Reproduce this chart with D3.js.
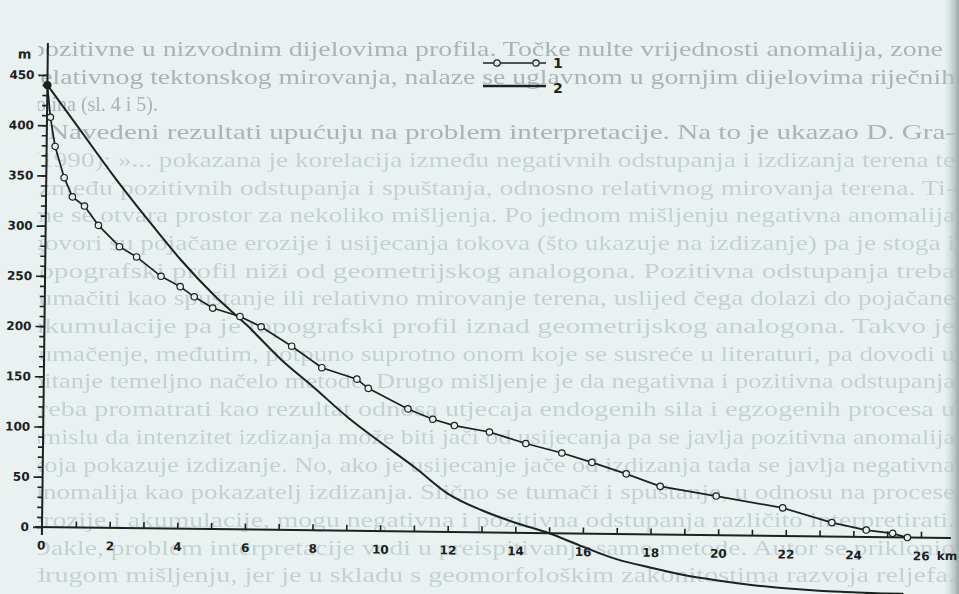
<!DOCTYPE html>
<html>
<head>
<meta charset="utf-8">
<script src="https://cdn.jsdelivr.net/npm/d3@7"></script>
<style>
  body { margin: 0; background: #e9f2f1; }
  svg { display: block; }
</style>
</head>
<body>
<svg id="chart"></svg>
<script>
// profile 1 (measured, with points) - km / m
const profileKm = [0, 0.1, 0.25, 0.53, 0.78, 1.14, 1.56, 2.19, 2.7, 3.43, 4.0, 4.42, 4.97, 5.78, 6.41, 7.32, 8.22, 9.26, 9.6, 10.78, 11.52, 12.16, 13.2, 14.28, 15.35, 16.24, 17.26, 18.27, 19.93, 21.9, 23.36, 24.38, 25.16, 25.6];
const profileM = [440, 408, 379, 348, 329, 320, 301, 280, 270, 251, 241, 231, 220, 212, 202, 183, 162, 151, 142, 122, 112, 106, 100, 89, 80, 71, 60, 48, 39, 28, 14, 7, 4, 0];

// profile 2 (smooth curve)
const curveKm = [0, 1, 2, 3, 4, 5, 6, 7, 8, 9, 10, 11, 12, 13, 14, 15, 16, 17, 18, 19, 20, 21, 22, 23, 24, 25, 25.5];
const curveM = [440, 395, 350, 308, 268, 233, 203, 170, 142, 113, 88, 64, 38, 22, 10, 0, -13, -25, -33, -40, -45, -49, -52, -54, -55, -56, -56];

const xLabelTicks = [0, 2, 4, 6, 8, 10, 12, 14, 16, 18, 20, 22, 24, 26];
const yLabelTicks = [0, 50, 100, 150, 200, 250, 300, 350, 400, 450];
const legendNames = ["1", "2"];

// the page text behind the figure
const pageLines = [
  "pozitivne u nizvodnim dijelovima profila. Točke nulte vrijednosti anomalija, zone",
  "relativnog tektonskog mirovanja, nalaze se uglavnom u gornjim dijelovima riječnih",
  "dolina (sl. 4 i 5).",
  "Navedeni rezultati upućuju na problem interpretacije. Na to je ukazao D. Gra-",
  "(1990): »... pokazana je korelacija između negativnih odstupanja i izdizanja terena te",
  "između pozitivnih odstupanja i spuštanja, odnosno relativnog mirovanja terena. Ti-",
  "me se otvara prostor za nekoliko mišljenja. Po jednom mišljenju negativna anomalija",
  "govori su pojačane erozije i usijecanja tokova (što ukazuje na izdizanje) pa je stoga i",
  "topografski profil niži od geometrijskog analogona. Pozitivna odstupanja treba",
  "tumačiti kao spuštanje ili relativno mirovanje terena, uslijed čega dolazi do pojačane",
  "akumulacije pa je topografski profil iznad geometrijskog analogona. Takvo je",
  "tumačenje, međutim, potpuno suprotno onom koje se susreće u literaturi, pa dovodi u",
  "pitanje temeljno načelo metode. Drugo mišljenje je da negativna i pozitivna odstupanja",
  "treba promatrati kao rezultat odnosa utjecaja endogenih sila i egzogenih procesa u",
  "smislu da intenzitet izdizanja može biti jači od usijecanja pa se javlja pozitivna anomalija",
  "koja pokazuje izdizanje. No, ako je usijecanje jače od izdizanja tada se javlja negativna",
  "anomalija kao pokazatelj izdizanja. Slično se tumači i spuštanje, u odnosu na procese",
  "erozije i akumulacije, mogu negativna i pozitivna odstupanja različito interpretirati.",
  "Dakle, problem interpretacije vodi u preispitivanje same metode. Autor se priklonio",
  "drugom mišljenju, jer je u skladu s geomorfološkim zakonitostima razvoja reljefa."
];

const width = 959;
const height = 594;
const bg = "#e9f2f1";
const ink = "#1b221f";

const svg = d3.select("#chart")
  .attr("width", width)
  .attr("height", height)
  .attr("viewBox", [0, 0, width, height]);

svg.append("rect").attr("width", width).attr("height", height).attr("fill", bg);

const defs = svg.append("defs");
defs.append("filter").attr("id", "soft")
  .append("feGaussianBlur").attr("stdDeviation", 0.6);
defs.append("clipPath").attr("id", "page")
  .append("rect").attr("x", 38).attr("y", 0).attr("width", width - 38).attr("height", height);
const edge = defs.append("linearGradient").attr("id", "edge").attr("x1", 0).attr("x2", 1);
edge.append("stop").attr("offset", 0).attr("stop-color", "#c9d2d2").attr("stop-opacity", 0);
edge.append("stop").attr("offset", 1).attr("stop-color", "#9aa6a6").attr("stop-opacity", 1);

// background page text
svg.append("g")
  .attr("clip-path", "url(#page)")
  .append("g")
  .attr("filter", "url(#soft)")
  .selectAll("text")
  .data(pageLines)
  .join("text")
  .attr("x", (d, i) => i == 3 ? 48 : (i == 2 ? 26 : 31))
  .attr("y", (d, i) => 56 + i * 27.7)
  .attr("font-family", "Liberation Serif, serif")
  .attr("font-size", 22)
  .attr("fill", (d, i) => i < 4 ? "#a9b4b5" : "#c4d1d2")
  .attr("textLength", (d, i) => i == 2 ? 132 : (i == 3 ? 907 : (i == 0 ? 912 : 924)))
  .attr("lengthAdjust", "spacingAndGlyphs")
  .text(d => d);

svg.append("rect").attr("x", 944).attr("width", 15).attr("height", height).attr("fill", "url(#edge)");

// chart frame: scanned slightly rotated
const g = svg.append("g")
  .attr("transform", "translate(42,527) rotate(0.7)");

const x = d3.scaleLinear().domain([0, 26]).range([0, 879]);
const y = d3.scaleLinear().domain([0, 450]).range([0, -452]);

// x axis: ticks every km pointing up, labels on even km
const xAxis = g.append("g")
  .call(d3.axisBottom(x).tickValues(d3.range(1, 27)).tickSizeInner(-6).tickSizeOuter(0).tickFormat(""));
xAxis.select(".domain").remove();
xAxis.selectAll(".tick line").attr("stroke", ink).attr("stroke-width", 1.6);

const xLab = g.append("g")
  .call(d3.axisBottom(x).tickValues(xLabelTicks).tickSize(0).tickPadding(14).tickFormat(d => d));
xLab.select(".domain").remove();
xLab.selectAll("text")
  .attr("font-family", "DejaVu Sans, sans-serif")
  .attr("font-weight", "bold")
  .attr("font-size", 12)
  .attr("fill", ink);
xLab.selectAll(".tick").filter(d => d == 0).select("text").attr("dx", -1);

g.append("text")
  .attr("x", x(26) + 16)
  .attr("y", 22)
  .attr("font-family", "DejaVu Sans, sans-serif")
  .attr("font-weight", "bold")
  .attr("font-size", 12)
  .attr("fill", ink)
  .text("km");

g.append("line")
  .attr("x1", -7).attr("x2", 909)
  .attr("y1", 0).attr("y2", 0)
  .attr("stroke", ink).attr("stroke-width", 2);

// y axis: minor ticks every 10 m, major every 50 m
const yMinor = g.append("g")
  .call(d3.axisLeft(y).tickValues(d3.range(0, 451, 10)).tickSize(5).tickFormat(""));
yMinor.select(".domain").remove();
yMinor.selectAll(".tick line").attr("stroke", ink).attr("stroke-width", 1.6);

const yMajor = g.append("g")
  .call(d3.axisLeft(y).tickValues(yLabelTicks).tickSize(9).tickPadding(4).tickFormat(d => d));
yMajor.select(".domain").remove();
yMajor.selectAll(".tick line").attr("stroke", ink).attr("stroke-width", 1.6);
yMajor.selectAll("text")
  .attr("font-family", "DejaVu Sans, sans-serif")
  .attr("font-weight", "bold")
  .attr("font-size", 12)
  .attr("fill", ink);

g.append("line")
  .attr("x1", 0).attr("x2", 0)
  .attr("y1", 8).attr("y2", y(482))
  .attr("stroke", ink).attr("stroke-width", 2);

g.append("text")
  .attr("x", -30)
  .attr("y", y(466))
  .attr("font-family", "DejaVu Sans, sans-serif")
  .attr("font-weight", "bold")
  .attr("font-size", 13)
  .attr("fill", ink)
  .text("m");

// curve 2
const curveData = curveKm.map((k, i) => ({ km: k, m: curveM[i] }));
g.append("path")
  .datum(curveData)
  .attr("fill", "none")
  .attr("stroke", ink)
  .attr("stroke-width", 2)
  .attr("d", d3.line().x(d => x(d.km)).y(d => y(d.m)).curve(d3.curveMonotoneX));

// curve 1
const profileData = profileKm.map((k, i) => ({ km: k, m: profileM[i] }));
g.append("path")
  .datum(profileData)
  .attr("fill", "none")
  .attr("stroke", ink)
  .attr("stroke-width", 1.7)
  .attr("d", d3.line().x(d => x(d.km)).y(d => y(d.m)));

g.append("g")
  .selectAll("circle")
  .data(profileData)
  .join("circle")
  .attr("cx", d => x(d.km))
  .attr("cy", d => y(d.m))
  .attr("r", (d, i) => i == 0 ? 3.6 : 3.2)
  .attr("fill", (d, i) => i == 0 ? ink : bg)
  .attr("stroke", ink)
  .attr("stroke-width", 1.2);

// legend
const legend = svg.append("g").attr("transform", "translate(483,63)");
legendNames.forEach(function (name, i) {
  const row = legend.append("g").attr("transform", `translate(0,${i * 23})`);
  row.append("line")
    .attr("x1", 0).attr("x2", 63)
    .attr("stroke", ink)
    .attr("stroke-width", i == 0 ? 1.7 : 2.6);
  if (i == 0) {
    [14, 53].forEach(function (cx) {
      row.append("circle")
        .attr("cx", cx).attr("r", 3.2)
        .attr("fill", bg).attr("stroke", ink).attr("stroke-width", 1.2);
    });
  }
  row.append("text")
    .attr("x", 70)
    .attr("y", i == 0 ? 5 : 7)
    .attr("font-family", "DejaVu Sans, sans-serif")
    .attr("font-weight", "bold")
    .attr("font-size", 14)
    .attr("fill", ink)
    .text(name);
});
</script>
</body>
</html>
